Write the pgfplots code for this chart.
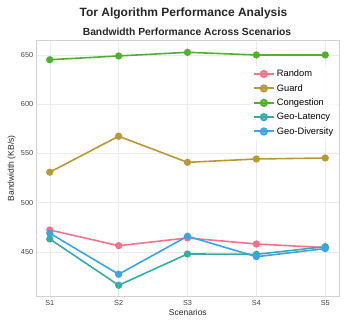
\documentclass[border=0pt]{standalone}
\usepackage{pgfplots}
\pgfplotsset{compat=1.18}
\usepackage{fontspec}
\setmainfont{Liberation Sans}
\definecolor{cRandom}{HTML}{F77189}
\definecolor{cGuard}{HTML}{BB9832}
\definecolor{cCong}{HTML}{50B131}
\definecolor{cGeoL}{HTML}{36ADA4}
\definecolor{cGeoD}{HTML}{3BA3EC}
\begin{document}
\begin{tikzpicture}
\path[use as bounding box] (0pt,0pt) rectangle (349pt,323pt);
\node[font=\bfseries\fontsize{12}{14}\selectfont, text=black!85] at (183.5pt,310pt) {Tor Algorithm Performance Analysis};
\node[font=\bfseries\fontsize{10.3}{12}\selectfont, text=black!85] at (187pt,291pt) {Bandwidth Performance Across Scenarios};
\begin{axis}[
  at={(36.7pt,26.3pt)}, anchor=south west,
  scale only axis, width=302.3pt, height=256.7pt,
  xmin=0.81, xmax=5.2, ymin=404.6, ymax=665.2,
  xtick={1,2,3,4,5}, xticklabels={S1,S2,S3,S4,S5},
  ytick={450,500,550,600,650},
  /pgf/number format/assume math mode=true,
  tick label style={font=\fontsize{7.3}{8}\selectfont, text=black!75},
  xlabel={Scenarios}, ylabel={Bandwidth (KB/s)},
  label style={font=\fontsize{8.5}{9}\selectfont, text=black!85},
  xlabel style={yshift=3pt},
  ylabel style={at={(axis description cs:-0.058,0.5)}, anchor=south},
  grid=major, grid style={black!8, line width=0.5pt},
  axis line style={black!18, line width=0.8pt},
  major tick length=0pt,
  legend style={at={(0.998,0.9)}, anchor=north east, draw=none, fill=white, fill opacity=0.8, text opacity=1,
    font=\fontsize{9.3}{10}\selectfont, row sep=2.2pt, cells={anchor=west}},
  legend image code/.code={\draw[#1, line width=2pt] (0pt,0pt) -- (20pt,0pt); \fill[#1] (10pt,0pt) circle (3.3pt);},
  every axis plot/.append style={line width=1.6pt, mark=*, mark size=2.8pt},
]
\addplot[cRandom, mark options={fill=cRandom}] coordinates {(1,472.3) (2,456.4) (3,464.2) (4,458.1) (5,454.4)};
\addlegendentry{Random}
\addplot[cGuard, mark options={fill=cGuard}] coordinates {(1,531) (2,567.5) (3,541) (4,544.4) (5,545.4)};
\addlegendentry{Guard}
\addplot[cCong, mark options={fill=cCong}] coordinates {(1,645.2) (2,649) (3,652.7) (4,650) (5,650)};
\addlegendentry{Congestion}
\addplot[cGeoL, mark options={fill=cGeoL}] coordinates {(1,463.2) (2,416.2) (3,448) (4,447.6) (5,455.4)};
\addlegendentry{Geo-Latency}
\addplot[cGeoD, mark options={fill=cGeoD}] coordinates {(1,469) (2,427.4) (3,466) (4,445.2) (5,453.4)};
\addlegendentry{Geo-Diversity}
\end{axis}
\end{tikzpicture}
\end{document}
